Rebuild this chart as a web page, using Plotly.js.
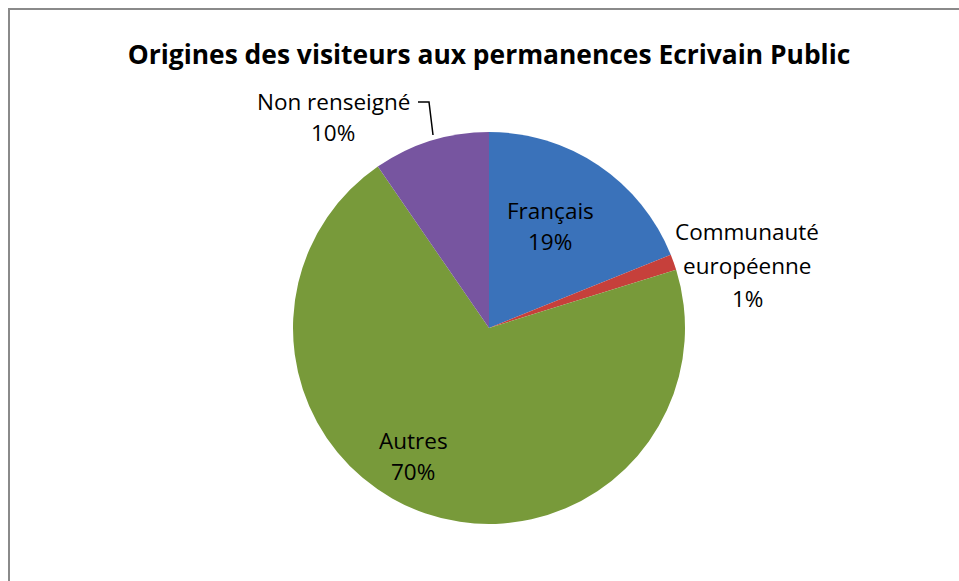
<!DOCTYPE html>
<html><head><meta charset="utf-8">
<script src="https://cdn.plot.ly/plotly-3.0.1.min.js"></script>
<style>
html,body{margin:0;padding:0;overflow:hidden;background:#fff;}
#chart{width:959px;height:581px;position:absolute;left:0;top:0;}
#frame{position:absolute;left:8px;top:8px;width:1200px;height:1200px;border-left:2px solid #8a8a8a;border-top:2px solid #8a8a8a;pointer-events:none;}
</style></head>
<body>
<div id="chart"></div>
<div id="frame"></div>
<script>
const categories = ["Français", "Communauté européenne", "Autres", "Non renseigné"];
const values = [18.9, 1.3, 70.2, 9.6];
const pctLabels = ["19%", "1%", "70%", "10%"];
const colors = ["#3A72BA", "#C6403B", "#789A3A", "#7755A0"];

const W = 959, H = 581;
const px = x => x / W;
const py = y => 1 - y / H;
const cx = 489, cy = 328, r = 196;

const font = "Open Sans, Noto Sans, sans-serif";
const annotations = [];
// Français
annotations.push({text: categories[0], x: px(550), y: py(210)});
annotations.push({text: pctLabels[0], x: px(550), y: py(241)});
// Communauté européenne (wrapped)
annotations.push({text: "Communauté", x: px(747), y: py(232)});
annotations.push({text: "européenne", x: px(747), y: py(266)});
annotations.push({text: pctLabels[1], x: px(747), y: py(298)});
// Autres
annotations.push({text: categories[2], x: px(413), y: py(440)});
annotations.push({text: pctLabels[2], x: px(413), y: py(471)});
// Non renseigné
annotations.push({text: categories[3], x: px(333), y: py(101)});
annotations.push({text: pctLabels[3], x: px(333), y: py(132)});
annotations.forEach(a => Object.assign(a, {xref: "paper", yref: "paper", showarrow: false,
  xanchor: "center", yanchor: "middle", font: {family: font, size: 22.5, color: "#000"}}));

const data = [{
  type: "pie",
  labels: categories,
  values: values,
  sort: false,
  direction: "clockwise",
  rotation: 0,
  marker: {colors: colors, line: {width: 0}},
  textinfo: "none",
  hoverinfo: "label+percent",
  domain: {x: [px(cx - r), px(cx + r)], y: [py(cy + r), py(cy - r)]},
  showlegend: false
}];

const layout = {
  width: W, height: H,
  margin: {l: 0, r: 0, t: 0, b: 0},
  paper_bgcolor: "#fff",
  title: {text: "<b>Origines des visiteurs aux permanences Ecrivain Public</b>",
    x: px(489), xanchor: "center", y: py(55), yanchor: "middle",
    font: {family: font, size: 26.4, color: "#000"}},
  annotations: annotations,
  shapes: [{
    type: "path", xref: "paper", yref: "paper",
    path: `M ${px(418)} ${py(102)} L ${px(429)} ${py(102)} L ${px(433)} ${py(135)}`,
    line: {color: "#000", width: 1.5}
  }]
};

Plotly.newPlot("chart", data, layout, {displayModeBar: false, staticPlot: true});
</script>
</body></html>
